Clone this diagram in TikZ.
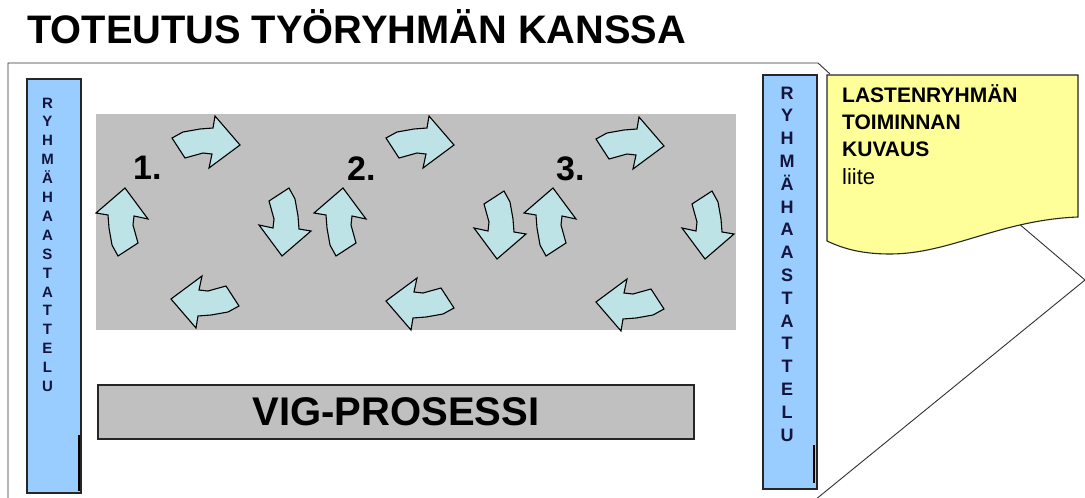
\documentclass[tikz,border=0pt]{standalone}
\usepackage{fontspec}
\setmainfont{Liberation Sans}
\definecolor{colblue}{RGB}{153,204,255}
\definecolor{stagegray}{RGB}{192,192,192}
\definecolor{arrowfill}{RGB}{190,227,231}
\definecolor{docyellow}{RGB}{255,255,153}
\definecolor{navy}{RGB}{20,20,60}
\definecolor{framegray}{RGB}{50,50,50}
\begin{document}
\begin{tikzpicture}[x=1pt,y=-1pt,
  colbox/.style={draw=black!85,line width=1.2pt,fill=colblue,inner sep=0pt},
  coltext/.style={anchor=north,align=center,inner sep=0pt,text=navy},
  stagebox/.style={fill=stagegray,inner sep=0pt},
  vigbox/.style={draw=black!85,line width=1.3pt,fill=stagegray,inner sep=0pt,
    font=\bfseries\fontsize{40}{42}\selectfont},
  numlabel/.style={anchor=base west,inner sep=0pt,font=\bfseries\fontsize{34}{36}\selectfont},
  doctext/.style={anchor=base west,inner sep=0pt,font=\bfseries\fontsize{21}{24}\selectfont},
  arrowsty/.style={fill=arrowfill,draw=black,line width=1.1pt,line join=miter},
  framesty/.style={draw=framegray,line width=0.9pt},
  tabsty/.style={draw=black,line width=2.4pt},
  bentarrow/.pic={\draw[arrowsty] (-34,-4) -- (-23,-10) -- (-6,-13) -- (7,-14) -- (9,-26) -- (34,3) -- (3,26) -- (6,12) -- (-3,11) -- (-21,16) -- cycle;}
]
\useasboundingbox[fill=white] (0,0) rectangle (1085,498);

% title
\node[anchor=base west,inner sep=0pt,font=\bfseries\fontsize{39.8}{40}\selectfont] (title) at (27,43) {TOTEUTUS TYÖRYHMÄN KANSSA};

% outer frame
\draw[framesty] (8,500) -- (8,63) -- (818,63) -- (830,74);
\draw[framesty] (1018,223) -- (1085,280) -- (815,500);

% yellow document
\draw[draw=black!85,line width=1.1pt,fill=docyellow] (827,75) -- (1078,75) -- (1078,217)
  .. controls (1000,220) and (950,254) .. (890,254)
  .. controls (860,254) and (842,248) .. (827,241) -- cycle;
\node[doctext] (doc1) at (842,102) {LASTENRYHMÄN};
\node[doctext] (doc2) at (842,129) {TOIMINNAN};
\node[doctext] (doc3) at (842,156) {KUVAUS};
\node[anchor=base west,inner sep=0pt,font=\fontsize{22}{24}\selectfont] (doc4) at (842,184) {liite};

% gray stage
\node[stagebox,minimum width=640pt,minimum height=216pt] (stage) at (416,222) {};

% left and right columns
\node[colbox,minimum width=54pt,minimum height=414pt] (colL) at (54,286) {};
\node[coltext,font=\bfseries\fontsize{15}{18.9}\selectfont] (txtL) at (47.5,97.5)
  {R\\Y\\H\\M\\Ä\\H\\A\\A\\S\\T\\A\\T\\T\\E\\L\\U};
\draw[tabsty] (79,435) -- (79,491);

\node[colbox,minimum width=54pt,minimum height=414pt] (colR) at (790,282) {};
\node[coltext,font=\bfseries\fontsize{18}{22.8}\selectfont] (txtR) at (787,86.5)
  {R\\Y\\H\\M\\Ä\\H\\A\\A\\S\\T\\A\\T\\T\\E\\L\\U};
\draw[tabsty] (814,445) -- (814,483);

% numbers
\node[numlabel] (n1) at (133,179) {1.};
\node[numlabel] (n2) at (347,180) {2.};
\node[numlabel] (n3) at (556,180) {3.};

% arrows group 1
\pic at (206,142) {bentarrow};
\pic[rotate=90] at (122,222) {bentarrow};
\pic[rotate=180] at (205,302) {bentarrow};
\pic[rotate=-90] at (285,222) {bentarrow};
% group 2
\pic at (420,142) {bentarrow};
\pic[rotate=90] at (340,222) {bentarrow};
\pic[rotate=180] at (420,304) {bentarrow};
\pic[rotate=-90] at (500,225) {bentarrow};
% group 3
\pic at (630,143) {bentarrow};
\pic[rotate=90] at (550,222) {bentarrow};
\pic[rotate=180] at (630,305) {bentarrow};
\pic[rotate=-90] at (708,225) {bentarrow};

% VIG box
\node[vigbox,minimum width=596pt,minimum height=54pt] (vig) at (396,412) {VIG-PROSESSI};
\end{tikzpicture}
\end{document}
